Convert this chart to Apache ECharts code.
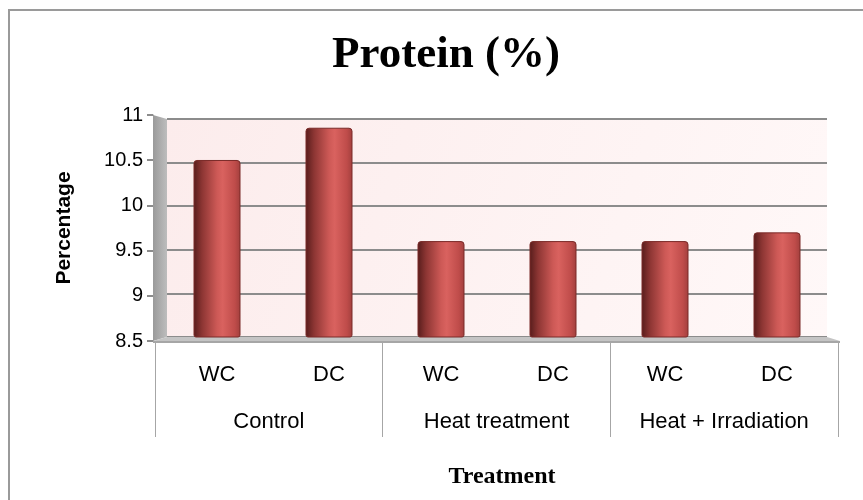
<!DOCTYPE html>
<html>
<head>
<meta charset="utf-8">
<script src="https://cdn.jsdelivr.net/npm/echarts@6/dist/echarts.min.js"></script>
<style>
  html, body { margin: 0; padding: 0; background: #fff; }
  #chart { width: 863px; height: 500px; }
</style>
</head>
<body>
<div id="chart"></div>
<script>
// data
var groups = ['Control', 'Heat treatment', 'Heat + Irradiation'];
var subCats = ['WC', 'DC', 'WC', 'DC', 'WC', 'DC'];
var protein = [10.53, 10.9, 9.6, 9.6, 9.6, 9.7];
var yTicks = { min: 8.5, max: 11, step: 0.5 };

// layout (pixels)
var wallL = 167, wallR = 827, wallT = 119, wallB = 337;   // back wall
var frontL = 153, frontR = 840, frontT = 115, frontB = 341; // front plane

var chart = echarts.init(document.getElementById('chart'));

var barColor = new echarts.graphic.LinearGradient(0, 0, 1, 0, [
  { offset: 0, color: '#561c1b' },
  { offset: 0.18, color: '#8c3533' },
  { offset: 0.5, color: '#cd5956' },
  { offset: 0.62, color: '#d9625f' },
  { offset: 0.88, color: '#bf4c4a' },
  { offset: 1, color: '#a13f3d' }
]);

var option = {
  animation: false,
  backgroundColor: '#fff',
  title: [{
    text: 'Protein (%)',
    left: 441, top: 28, textAlign: 'center',
    textStyle: { fontFamily: 'Liberation Serif', fontSize: 45, fontWeight: 'bold', color: '#000' }
  }, {
    text: 'Treatment',
    left: 497, top: 460, textAlign: 'center',
    textStyle: { fontFamily: 'Liberation Serif', fontSize: 24, fontWeight: 'bold', color: '#000' }
  }],
  grid: [
    { left: wallL, width: wallR - wallL, top: wallT, height: wallB - wallT, show: true, borderWidth: 0,
      backgroundColor: new echarts.graphic.LinearGradient(0, 0, 1, 1, [
        { offset: 0, color: '#fcecec' }, { offset: 1, color: '#fff8f8' }
      ]) },
    { left: 161, width: 672, top: wallT, height: wallB - wallT },
    { left: frontL, width: 1, top: frontT, height: frontB - frontT },
    { left: 155, width: 683, top: frontT, height: frontB - frontT }
  ],
  xAxis: [
    { gridIndex: 0, type: 'category', data: subCats, show: false },
    { gridIndex: 1, type: 'category', data: subCats,
      axisLine: { show: false }, axisTick: { show: false },
      axisLabel: { margin: 27, fontFamily: 'Liberation Sans', fontSize: 22, color: '#000' } },
    { gridIndex: 3, type: 'category', data: groups, position: 'bottom',
      axisLine: { show: false },
      axisTick: { show: true, interval: 0, length: 96, lineStyle: { color: '#a6a6a6', width: 1 } },
      axisLabel: { margin: 70, fontFamily: 'Liberation Sans', fontSize: 22, color: '#000' } },
    { gridIndex: 2, type: 'value', show: false }
  ],
  yAxis: [
    { gridIndex: 0, type: 'value', min: yTicks.min, max: yTicks.max, interval: yTicks.step,
      axisLine: { show: false }, axisTick: { show: false }, axisLabel: { show: false },
      splitLine: { lineStyle: { color: '#8c8c8c', width: 2 } } },
    { gridIndex: 1, type: 'value', min: yTicks.min, max: yTicks.max, interval: yTicks.step, show: false },
    { gridIndex: 2, type: 'value', min: yTicks.min, max: yTicks.max, interval: yTicks.step,
      name: 'Percentage', nameLocation: 'middle', nameGap: 78,
      nameTextStyle: { fontFamily: 'Liberation Sans', fontSize: 21, fontWeight: 'bold', color: '#000' },
      axisLine: { show: true, lineStyle: { color: '#a0a0a0', width: 1 } },
      axisTick: { show: true, length: 6, lineStyle: { color: '#8c8c8c', width: 2 } },
      axisLabel: { margin: 10, fontFamily: 'Liberation Sans', fontSize: 20, color: '#000' },
      splitLine: { show: false } },
    { gridIndex: 3, type: 'value', show: false }
  ],
  graphic: [
    { type: 'polygon', z: 1, shape: { points: [[frontL, frontT], [wallL, wallT], [wallL, wallB], [frontL, frontB]] },
      style: { fill: new echarts.graphic.LinearGradient(0, 0, 1, 0, [
        { offset: 0, color: '#9a9a9a' }, { offset: 1, color: '#bdbdbd' }
      ]) } },
    { type: 'polygon', z: 1, shape: { points: [[frontL, frontB], [wallL, wallB], [wallR, wallB], [frontR, frontB]] },
      style: { fill: '#c4c4c4' } },
    { type: 'line', z: 1, shape: { x1: frontL, y1: frontB + 1, x2: frontR, y2: frontB + 1 },
      style: { stroke: '#a6a6a6', lineWidth: 2 } },
    { type: 'line', z: 1, shape: { x1: 8, y1: 10, x2: 863, y2: 10 },
      style: { stroke: '#9a9a9a', lineWidth: 2 } },
    { type: 'line', z: 1, shape: { x1: 9, y1: 10, x2: 9, y2: 500 },
      style: { stroke: '#9a9a9a', lineWidth: 2 } }
  ],
  series: [{
    type: 'bar',
    xAxisIndex: 1, yAxisIndex: 1,
    data: protein,
    barWidth: 47,
    itemStyle: { color: barColor, borderColor: '#7a2a28', borderWidth: 1, borderRadius: [3, 3, 2, 2] }
  }]
};

chart.setOption(option);
</script>
</body>
</html>
